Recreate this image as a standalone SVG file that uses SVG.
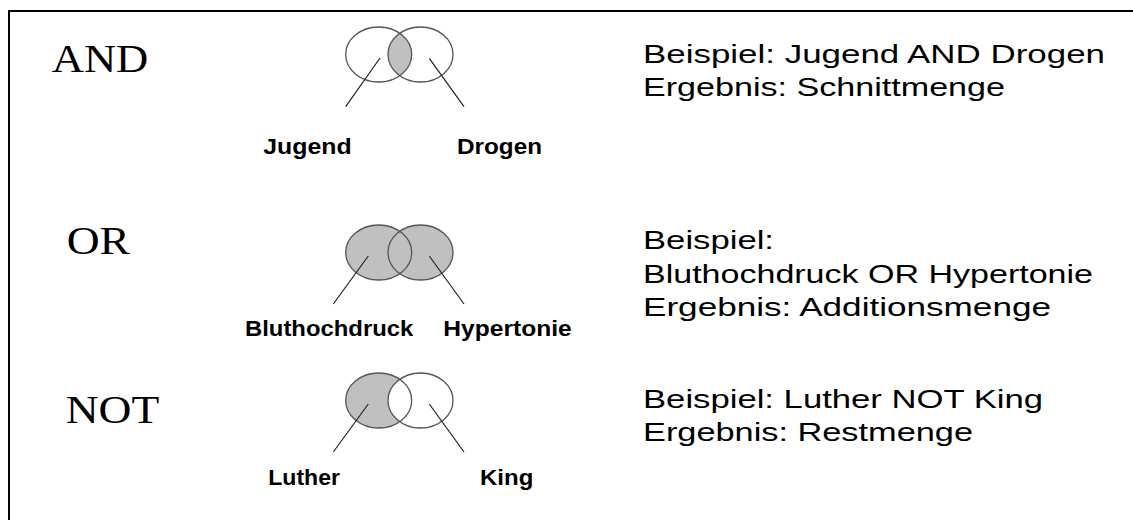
<svg xmlns="http://www.w3.org/2000/svg" width="1133" height="520" viewBox="0 0 1133 520">
  <style>
    .op { font-family: "Liberation Serif", "Times New Roman", serif; font-size: 39px; fill: #000; }
    .lbl { font-family: "Liberation Sans", Arial, sans-serif; font-size: 22px; font-weight: bold; fill: #000; }
    .txt { font-family: "Liberation Sans", Arial, sans-serif; font-size: 26px; fill: #000; }
    .ring { fill: none; stroke: #555; stroke-width: 1.3; }
    .shade { fill: #c0c0c0; stroke: none; }
    .blank { fill: #fff; stroke: none; }
    .conn { stroke: #222; stroke-width: 1.2; fill: none; }
  </style>
  <defs>
    <clipPath id="clipAndLeft">
      <ellipse cx="378.7" cy="54.5" rx="33" ry="27.5"/>
    </clipPath>
  </defs>
  <rect width="1133" height="520" fill="#fff"/>
  <g id="frame">
    <line x1="8" y1="11" x2="1133" y2="11" stroke="#000" stroke-width="2"/>
    <line x1="9" y1="10" x2="9" y2="520" stroke="#000" stroke-width="2"/>
  </g>

  <!-- AND -->
  <g id="and-title"><text class="op" x="51.7" y="71.7" textLength="96.6" lengthAdjust="spacingAndGlyphs">AND</text></g>
  <g id="and-venn">
    <ellipse class="shade" cx="420.5" cy="54.5" rx="32.5" ry="27.5" clip-path="url(#clipAndLeft)"/>
    <ellipse class="ring" cx="378.7" cy="54.5" rx="33" ry="27.5"/>
    <ellipse class="ring" cx="420.5" cy="54.5" rx="32.5" ry="27.5"/>
  </g>
  <g id="and-jugend"><text class="lbl" x="263.3" y="154" textLength="88.4" lengthAdjust="spacingAndGlyphs">Jugend</text></g>
  <g id="and-drogen"><text class="lbl" x="457" y="154" textLength="85" lengthAdjust="spacingAndGlyphs">Drogen</text></g>
  <g id="and-text">
    <text class="txt" x="643" y="62.5" textLength="462" lengthAdjust="spacingAndGlyphs">Beispiel: Jugend AND Drogen</text>
    <text class="txt" x="643" y="96" textLength="362" lengthAdjust="spacingAndGlyphs">Ergebnis: Schnittmenge</text>
  </g>

  <!-- OR -->
  <g id="or-title"><text class="op" x="66.7" y="254.3" textLength="63.3" lengthAdjust="spacingAndGlyphs">OR</text></g>
  <g id="or-venn">
    <ellipse class="shade" cx="378.7" cy="252.5" rx="33" ry="27.5"/>
    <ellipse class="shade" cx="420.5" cy="252.5" rx="32.5" ry="27.5"/>
    <ellipse class="ring" cx="378.7" cy="252.5" rx="33" ry="27.5"/>
    <ellipse class="ring" cx="420.5" cy="252.5" rx="32.5" ry="27.5"/>
  </g>
  <g id="or-bluthochdruck"><text class="lbl" x="245" y="336" textLength="168.3" lengthAdjust="spacingAndGlyphs">Bluthochdruck</text></g>
  <g id="or-hypertonie"><text class="lbl" x="443.3" y="336" textLength="128.4" lengthAdjust="spacingAndGlyphs">Hypertonie</text></g>
  <g id="or-text">
    <text class="txt" x="643" y="249" textLength="131" lengthAdjust="spacingAndGlyphs">Beispiel:</text>
    <text class="txt" x="643" y="282.5" textLength="450" lengthAdjust="spacingAndGlyphs">Bluthochdruck OR Hypertonie</text>
    <text class="txt" x="643" y="316" textLength="408" lengthAdjust="spacingAndGlyphs">Ergebnis: Additionsmenge</text>
  </g>

  <!-- NOT -->
  <g id="not-title"><text class="op" x="65.7" y="422.7" textLength="93.6" lengthAdjust="spacingAndGlyphs">NOT</text></g>
  <g id="not-venn">
    <ellipse class="shade" cx="378.7" cy="400.5" rx="33" ry="27.5"/>
    <ellipse class="blank" cx="420.5" cy="400.5" rx="32.5" ry="27.5"/>
    <ellipse class="ring" cx="378.7" cy="400.5" rx="33" ry="27.5"/>
    <ellipse class="ring" cx="420.5" cy="400.5" rx="32.5" ry="27.5"/>
  </g>
  <g id="not-luther"><text class="lbl" x="268.3" y="485" textLength="71.7" lengthAdjust="spacingAndGlyphs">Luther</text></g>
  <g id="not-king"><text class="lbl" x="480" y="485" textLength="53.3" lengthAdjust="spacingAndGlyphs">King</text></g>
  <g id="not-text">
    <text class="txt" x="643" y="407.5" textLength="400" lengthAdjust="spacingAndGlyphs">Beispiel: Luther NOT King</text>
    <text class="txt" x="643" y="441" textLength="330" lengthAdjust="spacingAndGlyphs">Ergebnis: Restmenge</text>
  </g>

  <g id="connectors">
    <line class="conn" x1="380" y1="58" x2="345.7" y2="106.7"/>
    <line class="conn" x1="429.3" y1="58.3" x2="464" y2="106.7"/>
    <line class="conn" x1="368.3" y1="256" x2="333.3" y2="304"/>
    <line class="conn" x1="429.3" y1="256" x2="464" y2="304"/>
    <line class="conn" x1="368.3" y1="404" x2="333.3" y2="452"/>
    <line class="conn" x1="429.3" y1="404" x2="464" y2="452"/>
  </g>
</svg>
